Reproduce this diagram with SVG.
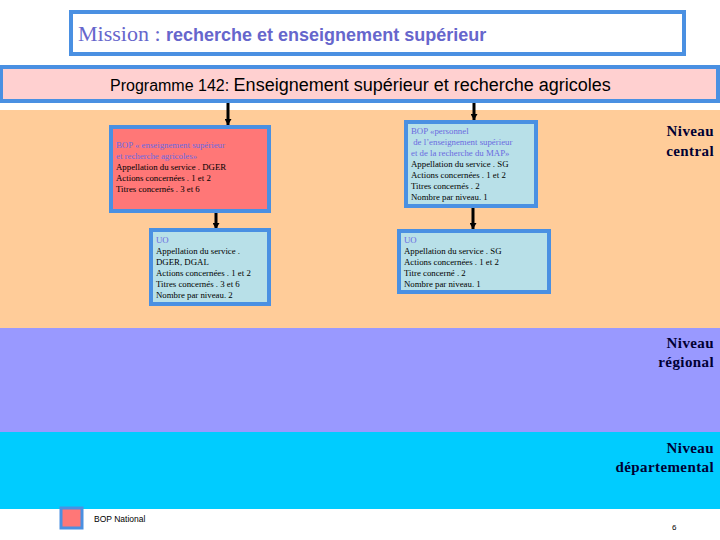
<svg xmlns="http://www.w3.org/2000/svg" width="720" height="540" viewBox="0 0 720 540">
<defs>
<marker id="ah" markerWidth="6" markerHeight="7" refX="6" refY="3.5" orient="auto" markerUnits="userSpaceOnUse" viewBox="0 0 6 7"><path d="M0,0 L6,3.5 L0,7 z" fill="#000"/></marker>
</defs>
<style>
.frame{stroke:#4a90e2;stroke-width:4}
.small{font-family:"Liberation Serif","DejaVu Serif",serif;font-size:8.8px;fill:#000}
.blue{fill:#6a6ae0}
.niv{font-family:"Liberation Serif","DejaVu Serif",serif;font-size:15px;font-weight:bold;fill:#000033;text-anchor:end;letter-spacing:0.4px}
.conn{stroke:#000;stroke-width:3;fill:none;marker-end:url(#ah)}
</style>
<rect x="0" y="0" width="720" height="540" fill="#fff"/>
<rect x="0" y="110" width="720" height="218" fill="#ffcc99"/>
<rect x="0" y="328" width="720" height="104" fill="#9999ff"/>
<rect x="0" y="432" width="720" height="77" fill="#00ccff"/>

<g id="mission">
<rect class="frame" x="71" y="12" width="613" height="42" fill="#fff"/>
<text x="78" y="41" font-family="Liberation Serif, serif" font-size="22" fill="#6666cc">Mission : <tspan font-family="Liberation Sans, Arial, sans-serif" font-size="18" font-weight="bold">recherche et enseignement supérieur</tspan></text>
</g>

<g id="programme">
<rect class="frame" x="1" y="67" width="717" height="34" fill="#ffd0d0"/>
<text x="110" y="91" font-family="Liberation Sans, Arial, sans-serif" font-size="16" fill="#000">Programme 142: <tspan font-size="18">Enseignement supérieur et recherche agricoles</tspan></text>
</g>

<g id="connectors">
<line class="conn" x1="228" y1="103" x2="228" y2="125"/>
<line class="conn" x1="216" y1="213" x2="216" y2="229"/>
<line class="conn" x1="474" y1="103" x2="474" y2="120"/>
<line class="conn" x1="473" y1="208" x2="473" y2="229"/>
</g>

<g id="bop-national">
<rect class="frame" x="111" y="127" width="158" height="84" fill="#ff7777"/>
<text class="small" x="116" y="148"><tspan class="blue">BOP « enseignement supérieur</tspan><tspan class="blue" x="116" dy="11">et recherche agricoles»</tspan><tspan x="116" dy="11">Appellation du service . DGER</tspan><tspan x="116" dy="11">Actions concernées . 1 et 2</tspan><tspan x="116" dy="11">Titres concernés . 3 et 6</tspan></text>
</g>

<g id="uo-1">
<rect class="frame" x="151" y="230" width="118" height="74" fill="#b8e0e8"/>
<text class="small" x="156" y="243" font-size="9.3"><tspan class="blue">UO</tspan><tspan x="156" dy="11">Appellation du service .</tspan><tspan x="156" dy="11">DGER, DGAL</tspan><tspan x="156" dy="11">Actions concernées . 1 et 2</tspan><tspan x="156" dy="11">Titres concernés . 3 et 6</tspan><tspan x="156" dy="11">Nombre par niveau. 2</tspan></text>
</g>

<g id="bop-personnel">
<rect class="frame" x="406" y="122" width="130" height="84" fill="#b8e0e8"/>
<text class="small" x="411" y="134" font-size="8"><tspan class="blue">BOP «personnel</tspan><tspan class="blue" x="411" dy="11"> de l’enseignement supérieur</tspan><tspan class="blue" x="411" dy="11">et de la recherche du MAP»</tspan><tspan x="411" dy="11">Appellation du service . SG</tspan><tspan x="411" dy="11">Actions concernées . 1 et 2</tspan><tspan x="411" dy="11">Titres concernés . 2</tspan><tspan x="411" dy="11">Nombre par niveau. 1</tspan></text>
</g>

<g id="uo-2">
<rect class="frame" x="399" y="231" width="150" height="61" fill="#b8e0e8"/>
<text class="small" x="404" y="243" font-size="9.3"><tspan class="blue">UO</tspan><tspan x="404" dy="11">Appellation du service . SG</tspan><tspan x="404" dy="11">Actions concernées . 1 et 2</tspan><tspan x="404" dy="11">Titre concerné . 2</tspan><tspan x="404" dy="11">Nombre par niveau. 1</tspan></text>
</g>

<g id="niveaux">
<text class="niv" x="714" y="136">Niveau</text>
<text class="niv" x="714" y="156">central</text>
<text class="niv" x="714" y="348">Niveau</text>
<text class="niv" x="714" y="367">régional</text>
<text class="niv" x="714" y="453">Niveau</text>
<text class="niv" x="714" y="472">départemental</text>
</g>

<g id="legend">
<rect x="61" y="508" width="21" height="20" fill="#ff7777" stroke="#4a90e2" stroke-width="3"/>
<text x="94" y="522" font-family="Liberation Sans, Arial, sans-serif" font-size="8.5" fill="#000">BOP National</text>
</g>
<text x="672" y="530" font-family="Liberation Sans, Arial, sans-serif" font-size="8" fill="#000">6</text>
</svg>
